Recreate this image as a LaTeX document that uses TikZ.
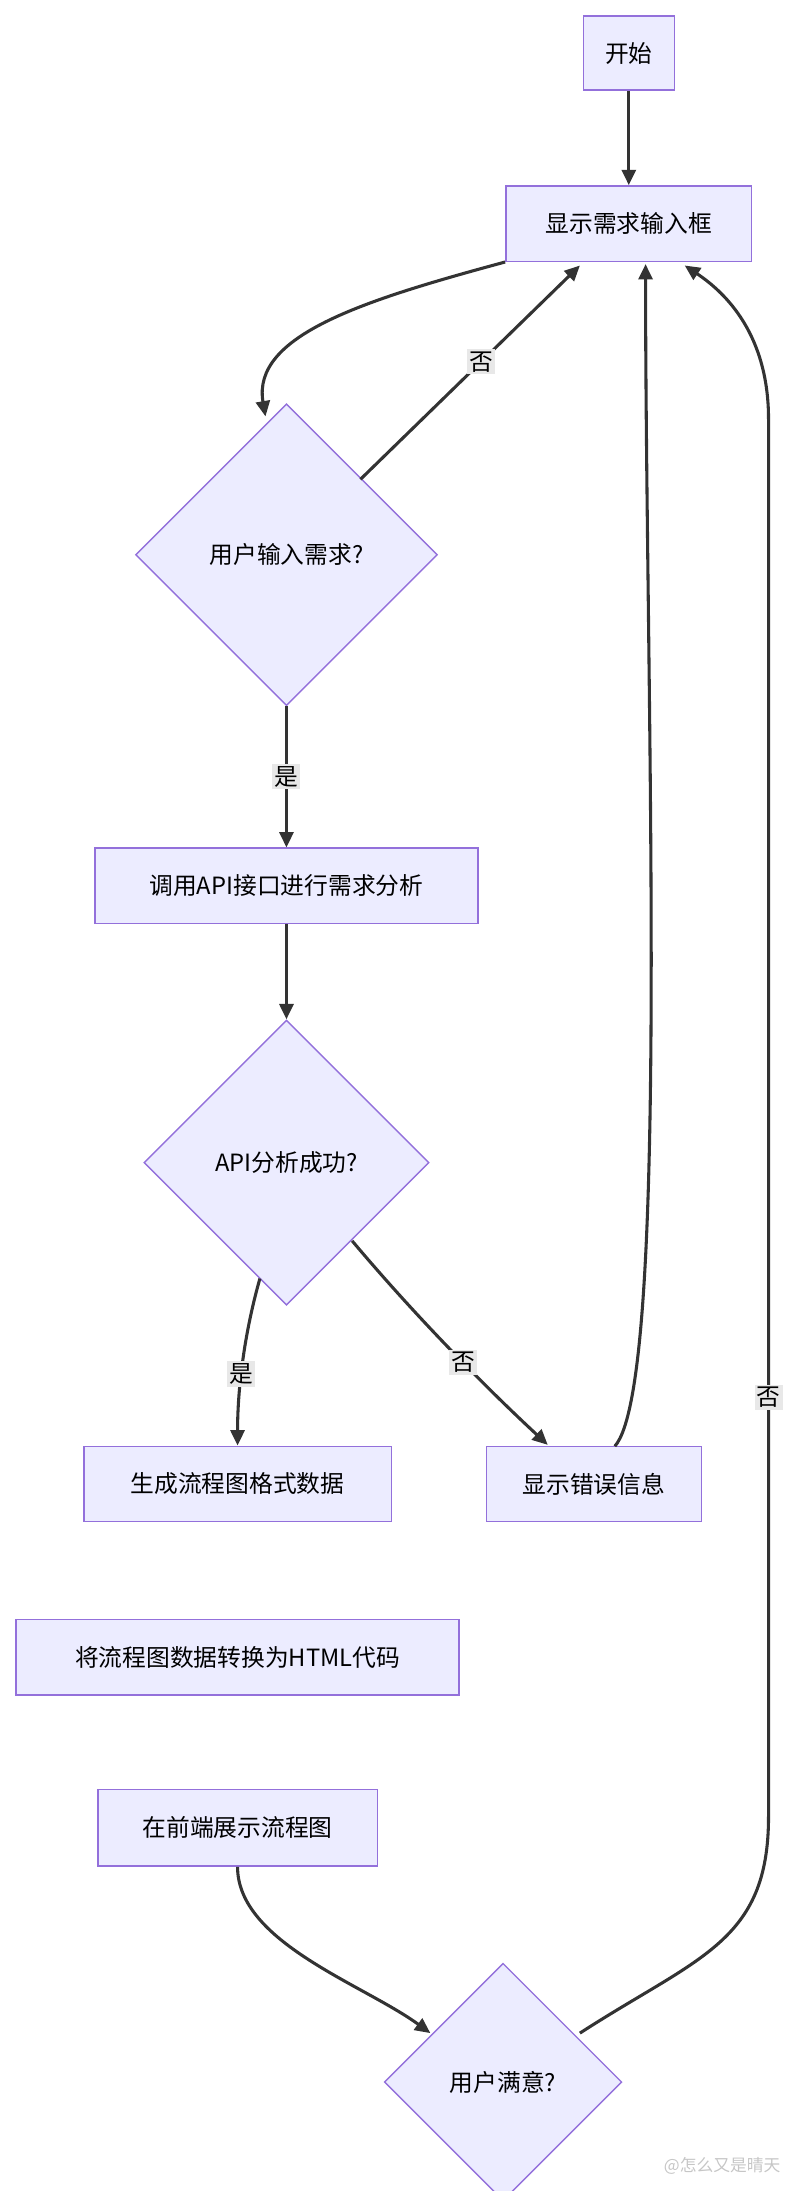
\documentclass[tikz,border=0pt]{standalone}
\usepackage{fontspec}
\setmainfont{Noto Sans CJK SC}
\usetikzlibrary{shapes.geometric,arrows.meta}
\definecolor{boxfill}{HTML}{ECECFF}
\definecolor{boxline}{HTML}{9370DB}
\definecolor{edge}{HTML}{333333}
\definecolor{lblbg}{HTML}{E8E8E8}
\tikzset{
  box/.style={draw=boxline,fill=boxfill,line width=1pt,inner sep=0pt,font=\fontsize{17}{20}\selectfont},
  dec/.style={diamond,draw=boxline,fill=boxfill,line width=1pt,inner sep=0pt,aspect=1,font=\fontsize{17}{20}\selectfont},
  flow/.style={draw=edge,line width=2.2pt,-{Triangle[length=11pt,width=10pt]}},
  lbl/.style={fill=lblbg,inner sep=1.5pt,font=\fontsize{17}{20}\selectfont}
}
\begin{document}
\begin{tikzpicture}[x=1pt,y=-1pt]
	\useasboundingbox (0,0) rectangle (573,1568);

	% Nodes
	\node[box,minimum width=65,minimum height=53] (start) at (450,38) {开始};
	\node[box,minimum width=176,minimum height=54] (show) at (450,160) {显示需求输入框};
	\node[dec,minimum width=216,minimum height=216] (ask) at (205,397) {用户输入需求?};
	\node[box,minimum width=274,minimum height=54] (api) at (205,634) {调用API接口进行需求分析};
	\node[dec,minimum width=204,minimum height=204] (ok) at (205,832) {API分析成功?};
	\node[box,minimum width=220,minimum height=54] (gen) at (170,1062) {生成流程图格式数据};
	\node[box,minimum width=154,minimum height=54] (err) at (425,1062) {显示错误信息};
	\node[box,minimum width=317,minimum height=54] (html) at (170,1186) {将流程图数据转换为HTML代码};
	\node[box,minimum width=200,minimum height=55] (front) at (170,1308) {在前端展示流程图};
	\node[dec,minimum width=170,minimum height=170] (sat) at (360,1490) {用户满意?};

	% Connections
	\draw[flow] (start) -- (show);
	\draw[flow] (show.south west) .. controls (260,215) and (180,240) .. (190,298);
	\draw[flow] (258,343) -- node[lbl,pos=0.55] {否} (415,190);
	\draw[flow] (ask.south) -- node[lbl] {是} (api.north);
	\draw[flow] (api) -- (ok);
	\draw[flow] (186,915) .. controls (176,950) and (170,990) .. node[lbl,pos=0.6] {是} (gen.north);
	\draw[flow] (252,888) .. controls (300,945) and (350,995) .. node[lbl,pos=0.55] {否} (392,1034);
	\draw[flow] (440,1035) .. controls (480,990) and (462,500) .. (462,189);
	\draw[flow] (front.south) .. controls (170,1390) and (260,1420) .. (308,1455);
	\draw[flow] (415,1455) .. controls (500,1400) and (550,1390) .. (550,1300)
		-- node[lbl,pos=0.3] {否} (550,300) .. controls (550,240) and (520,210) .. (490,190);

	% Watermark
	\node[text=gray!45,font=\fontsize{12}{14}\selectfont,anchor=east] (mark) at (562,1550) {@怎么又是晴天};
\end{tikzpicture}
\end{document}
